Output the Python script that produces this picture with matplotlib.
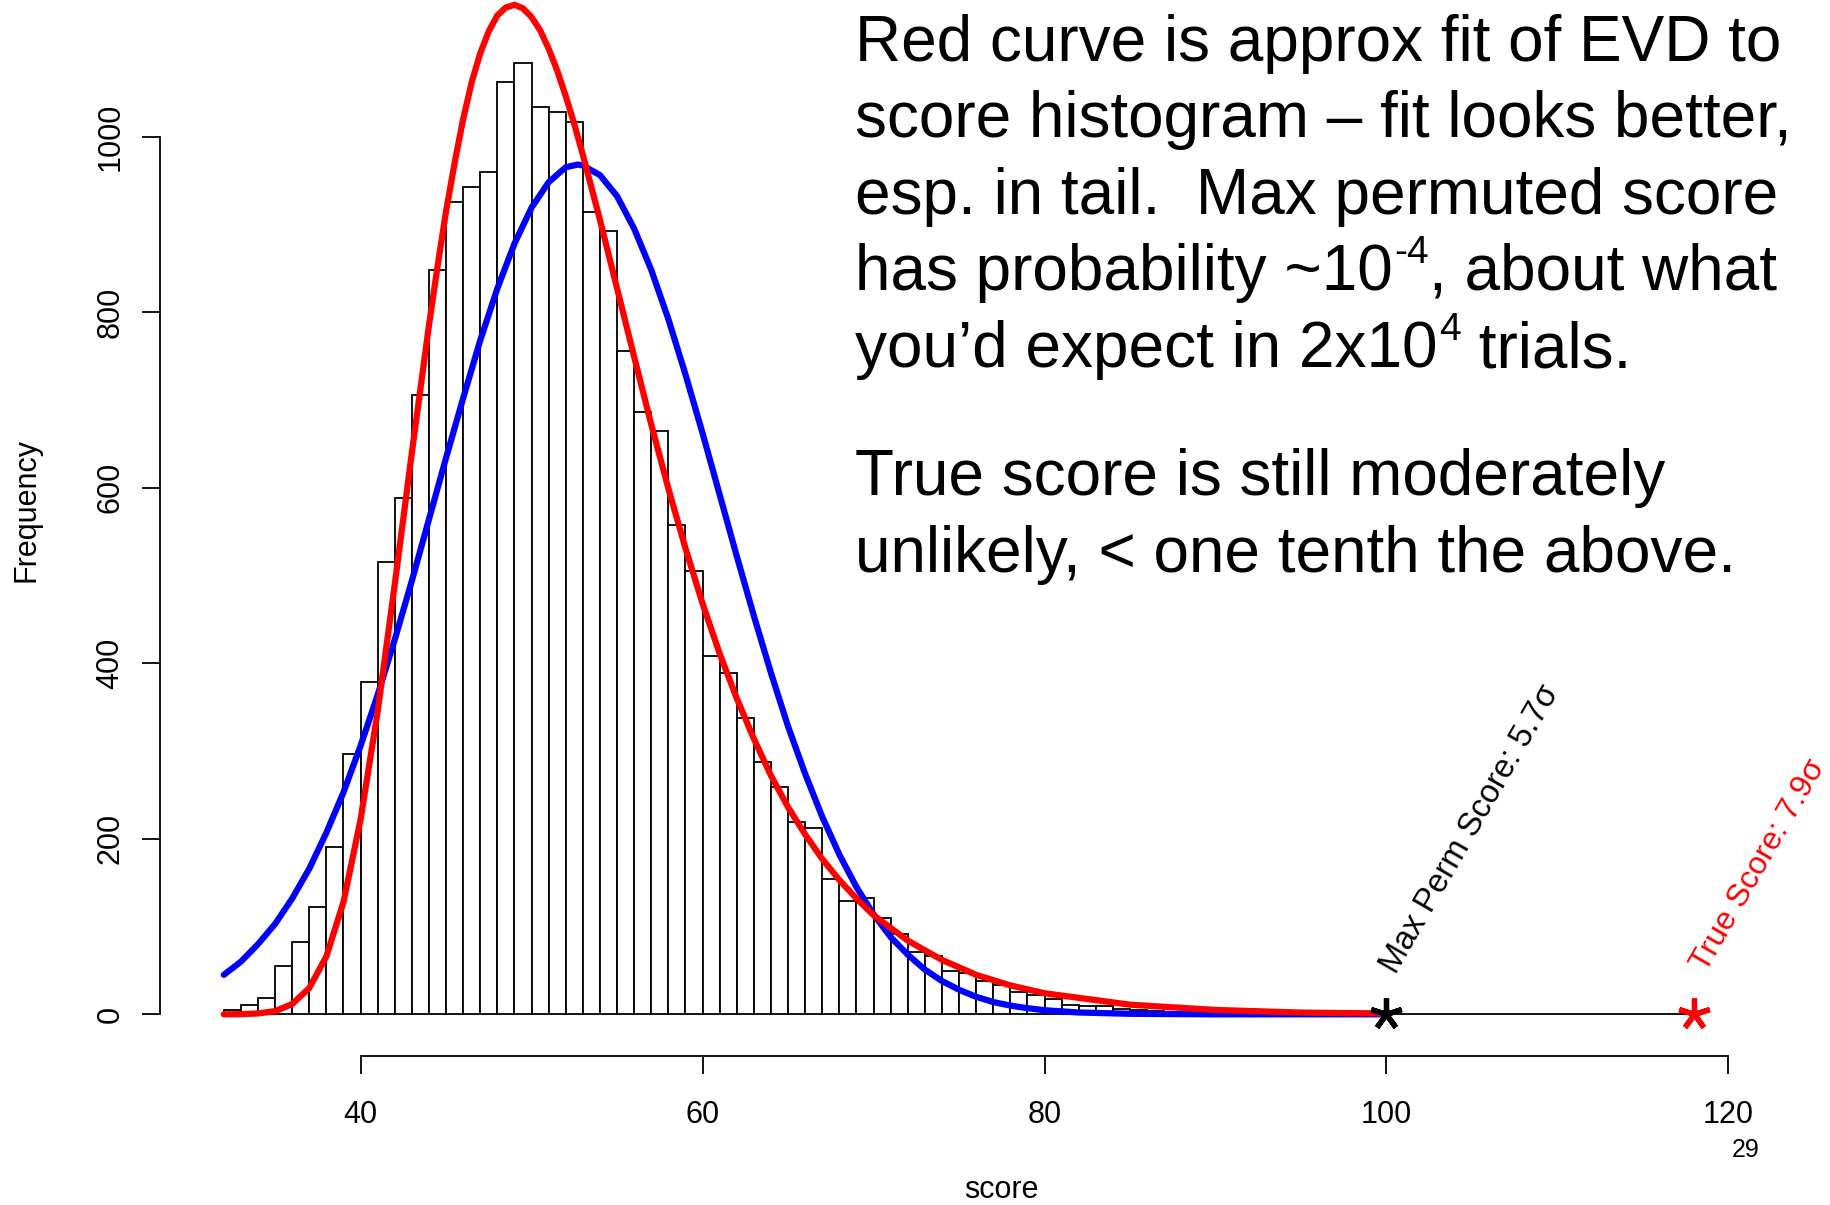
import matplotlib
matplotlib.use('Agg')
import matplotlib.pyplot as plt

plt.rcParams['font.family'] = ['Liberation Sans', 'DejaVu Sans']

# histogram of permuted scores (bins of width 1, left edges 32..117)
bin_left = list(range(32, 118))
counts = [5, 11, 19, 55, 82, 122, 191, 297, 379, 515,
          588, 705, 848, 925, 943, 960, 1062, 1084, 1034, 1028,
          1017, 914, 892, 756, 686, 664, 557, 505, 408, 389,
          338, 288, 259, 219, 212, 154, 129, 132, 110, 92,
          71, 66, 49, 47, 38, 33, 26, 22, 17, 11,
          10, 9, 6, 5, 4, 3, 2, 2, 1, 1,
          1, 0, 1, 0, 0, 0, 0, 1, 0, 0,
          0, 0, 0, 0, 0, 0, 0, 0, 0, 0,
          0, 0, 0, 0, 0, 0]

# normal fit (blue)
blue_x = [32, 33, 34, 35, 36, 37, 38, 39, 40, 41, 42, 43, 44, 45, 46, 47,
          48, 49, 50, 51, 52, 52.7, 53, 54, 55, 56, 57, 58, 59, 60, 61, 62,
          63, 64, 65, 66, 67, 68, 69, 70, 71, 72, 73, 74, 75, 76, 77, 78, 79,
          80, 82, 85, 90, 95, 100]
blue_y = [45, 60, 80, 103, 132, 166, 207, 253, 306, 364, 427, 494, 564, 634,
          702, 768, 827, 878, 919, 948, 965, 968, 967, 956, 932, 895, 848,
          792, 729, 662, 592, 522, 454, 389, 328, 274, 225, 182, 145, 114,
          88, 68, 51, 38, 28, 20, 14, 10, 7, 4.7, 2.1, 0.6, 0, 0, 0]

# EVD fit (red)
red_x = [32, 33, 34, 35, 36, 37, 38, 39, 40, 41, 42, 43, 44, 44.5, 45, 45.5,
         46, 46.5, 47, 47.5, 48, 48.5, 49, 49.5, 50, 50.5, 51, 51.5, 52,
         52.5, 53, 54, 55, 56, 57, 58, 59, 60, 61, 62, 63, 64, 65, 66, 67,
         68, 69, 70, 72, 74, 76, 78, 80, 85, 90, 95, 100]
red_y = [0, 0.2, 1, 3.7, 11.7, 30, 66, 128, 222, 345, 490, 640, 785, 852,
         915, 970, 1020, 1062, 1095, 1120, 1138, 1147, 1150, 1146, 1136, 1121,
         1100, 1075, 1046, 1014, 979, 905, 827, 749, 672, 599, 531, 468, 411,
         360, 314, 272, 236, 205, 177, 153, 132, 113, 84, 62, 45, 33, 24, 11,
         5, 2, 1]

max_perm = 100
true_score = 118

W, H = 1830, 1205
fig = plt.figure(figsize=(W / 100, H / 100), dpi=100)
ax = fig.add_axes([0, 0, 1, 1])
ax.patch.set_visible(False)
ax.set_xlim(18.91, 125.94)
ax.set_ylim(-217.2, 1155.5)

ax.bar(bin_left, counts, width=1, align='edge', facecolor='white',
       edgecolor='black', linewidth=1.3)
ax.plot(blue_x, blue_y, color='#0000FF', lw=4.5, solid_capstyle='round')
ax.plot(red_x, red_y, color='#FF0000', lw=4.5, solid_capstyle='round')

ax.plot([max_perm], [0], marker=(5, 2, 0), ms=23, mew=3.8, color='black')
ax.plot([true_score], [0], marker=(5, 2, 0), ms=23, mew=3.8, color='#FF0000')
ax.text(max_perm + 0.55, 45, 'Max Perm Score: 5.7\u03c3', rotation=60,
        rotation_mode='anchor', ha='left', va='baseline', fontsize=23.5)
ax.text(true_score + 0.7, 47, 'True Score: 7.9\u03c3', rotation=60,
        rotation_mode='anchor', ha='left', va='baseline', fontsize=23,
        color='#FF0000')

for s in ['top', 'right']:
    ax.spines[s].set_visible(False)
ax.spines['left'].set_position(('data', 28.27))
ax.spines['left'].set_bounds(0, 1000)
ax.spines['bottom'].set_position(('data', -47.5))
ax.spines['bottom'].set_bounds(40, 120)
ax.spines['left'].set_linewidth(1.3)
ax.spines['bottom'].set_linewidth(1.3)
ax.set_xticks([40, 60, 80, 100, 120])
ax.set_yticks([0, 200, 400, 600, 800, 1000])
ax.tick_params(direction='out', length=13, width=1.3, labelsize=22)
ax.tick_params(axis='x', pad=19)
ax.tick_params(axis='y', pad=12)
plt.setp(ax.get_yticklabels(), rotation=90, va='center')

fig.text(1001 / W, 1 - 1190 / H, 'score', ha='center', va='center', fontsize=22)
fig.text(26 / W, 1 - 510 / H, 'Frequency', ha='center', va='center',
         rotation=90, fontsize=22)
fig.text(1746 / W, 1 - 1150 / H, '29', ha='center', va='center', fontsize=18)

# big note text, upper right
fs = 46
sup_fs = 28
x0 = 855 / W


def put(s, yb):
    return fig.text(x0, 1 - yb / H, s, ha='left', va='baseline', fontsize=fs)


def put_sup(before, sup, after, yb):
    t1 = put(before, yb)
    t2 = ax.annotate(sup, xy=(1, 1), xycoords=t1, xytext=(1, 6),
                     textcoords='offset points', ha='left', va='top',
                     fontsize=sup_fs, annotation_clip=False)
    ax.annotate(after, xy=(1, 0), xycoords=(t2, t1), ha='left', va='bottom',
                fontsize=fs, annotation_clip=False)


put('Red curve is approx fit of EVD to', 61)
put('score histogram \u2013 fit looks better,', 137)
put('esp. in tail.  Max permuted score', 214)
put_sup('has probability ~10', '-4', ', about what', 290)
put_sup('you\u2019d expect in 2x10', '4', ' trials.', 367)
put('True score is still moderately', 495)
put('unlikely, < one tenth the above.', 572)

fig.savefig('out.png', dpi=100, facecolor='white')
